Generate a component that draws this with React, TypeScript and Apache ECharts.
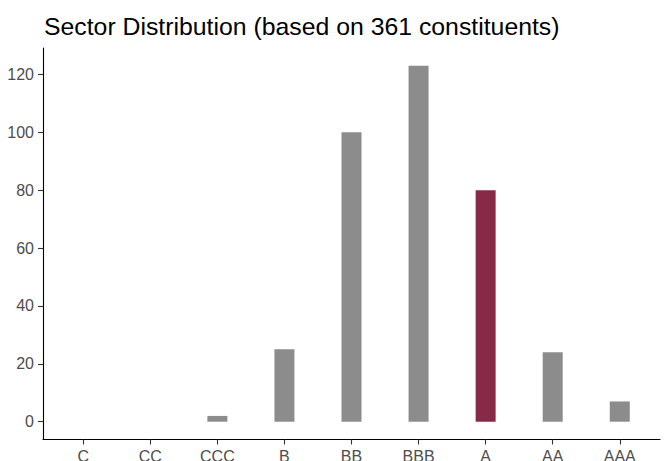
import React, { useEffect, useRef } from "react";
import * as echarts from "echarts";

const categories = ["C", "CC", "CCC", "B", "BB", "BBB", "A", "AA", "AAA"];
const counts = [0, 0, 2, 25, 100, 123, 80, 24, 7];
const highlighted = "A";
const yTicks = [0, 20, 40, 60, 80, 100, 120];
const titleText = "Sector Distribution (based on 361 constituents)";

const FONT = "'Liberation Sans', Arial, sans-serif";

export default function App() {
  const ref = useRef<HTMLDivElement>(null);
  useEffect(() => {
    if (!ref.current) return;
    const chart = echarts.init(ref.current, undefined, { renderer: "svg" });
    const xIdx = categories.map((_, i) => i);
    chart.setOption({
      animation: false,
      backgroundColor: "#ffffff",
      title: {
        text: titleText,
        left: 39,
        top: 9,
        textStyle: { fontFamily: FONT, fontSize: 24.8, fontWeight: "normal", color: "#000000" },
      },
      grid: { left: 43, right: 7, top: 48, bottom: 21.5, containLabel: false, outerBoundsMode: "none" },
      xAxis: {
        type: "value",
        min: -0.6,
        max: 8.6,
        splitLine: { show: false },
        axisLine: { show: true, onZero: false, lineStyle: { color: "#000000", width: 1.1 } },
        axisTick: { show: true, length: 5, customValues: xIdx, lineStyle: { color: "#333333", width: 1.1 } },
        axisLabel: {
          customValues: xIdx,
          formatter: (v: number) => categories[Math.round(v)] ?? "",
          fontFamily: FONT,
          fontSize: 16,
          color: "#4d4d4d",
          margin: 9,
        },
      },
      yAxis: {
        type: "value",
        min: -6.15,
        max: 129.15,
        splitLine: { show: false },
        axisLine: { show: true, onZero: false, lineStyle: { color: "#000000", width: 1.1 } },
        axisTick: { show: true, length: 5, customValues: yTicks, lineStyle: { color: "#333333", width: 1.1 } },
        axisLabel: {
          customValues: yTicks,
          fontFamily: FONT,
          fontSize: 16,
          color: "#4d4d4d",
          margin: 9,
        },
      },
      series: [
        {
          type: "bar",
          barWidth: 20,
          data: categories.map((c, i) => ({
            value: [i, counts[i]],
            itemStyle: { color: c === highlighted ? "#862a48" : "#8c8c8c" },
          })),
        },
      ],
    });
    return () => chart.dispose();
  }, []);
  return (
    <div
      ref={ref}
      style={{ position: "fixed", left: 0, top: 0, width: 667, height: 461 }}
    />
  );
}
